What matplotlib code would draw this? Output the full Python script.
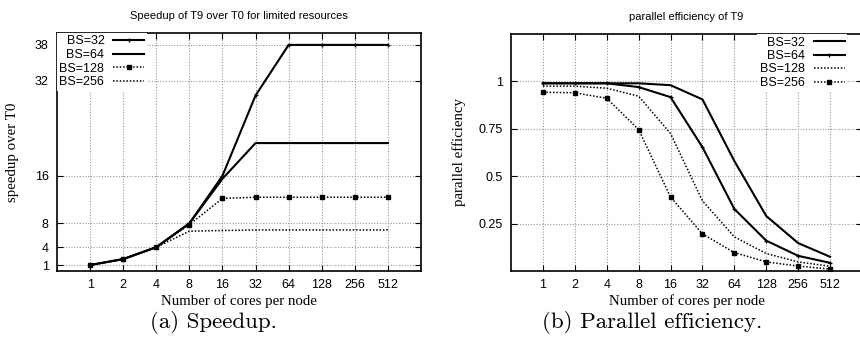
import matplotlib
matplotlib.use("Agg")
import matplotlib.pyplot as plt

cores = ["1", "2", "4", "8", "16", "32", "64", "128", "256", "512"]

speedup_bs32 = [1, 2, 4, 8, 16, 29.5, 38, 38, 38, 38]
speedup_bs64 = [1, 2, 4, 8, 15.5, 21.5, 21.5, 21.5, 21.5, 21.5]
speedup_bs128 = [1, 2, 4, 7.8, 12.2, 12.4, 12.4, 12.4, 12.4, 12.4]
speedup_bs256 = [1, 2, 4, 6.7, 6.8, 6.9, 6.9, 6.9, 6.9, 6.9]

eff_bs32 = [0.99, 0.99, 0.99, 0.99, 0.98, 0.905, 0.58, 0.29, 0.147, 0.075]
eff_bs64 = [0.99, 0.99, 0.99, 0.97, 0.917, 0.653, 0.327, 0.16, 0.08, 0.043]
eff_bs128 = [0.975, 0.975, 0.964, 0.922, 0.725, 0.37, 0.18, 0.092, 0.048, 0.025]
eff_bs256 = [0.943, 0.94, 0.911, 0.746, 0.39, 0.196, 0.097, 0.048, 0.026, 0.01]

speedup_yticks = [1, 4, 8, 16, 32, 38]
eff_yticks = [0.25, 0.5, 0.75, 1]
eff_yticklabels = ["0.25", "0.5", "0.75", "1"]

SANS = "Liberation Sans"
SERIF = "Liberation Serif"

W, H = 860, 337
fig = plt.figure(figsize=(W / 100, H / 100), dpi=100)

def ax_rect(x0, y0, x1, y1):
    return [x0 / W, (H - y1) / H, (x1 - x0) / W, (y1 - y0) / H]

ax1 = fig.add_axes(ax_rect(57, 33, 421, 271))
ax2 = fig.add_axes(ax_rect(511, 34, 862, 271))

x = list(range(len(cores)))

solid = dict(color="black", lw=1.5, ls="-")
dotted = dict(color="black", lw=1.1, ls=(0, (1, 1.2)))
plus = dict(marker="+", ms=3.5, mew=0.9)
square = dict(marker="s", ms=3.2)

# Left panel
ax1.plot(x, speedup_bs32, label="BS=32", **plus, **solid)
ax1.plot(x, speedup_bs64, label="BS=64", **solid)
ax1.plot(x, speedup_bs128, label="BS=128", **square, **dotted)
ax1.plot(x, speedup_bs256, label="BS=256", **dotted)
ax1.set_ylim(0, 40)
ax1.set_yticks(speedup_yticks)
ax1.set_yticklabels([str(v) for v in speedup_yticks])

# Right panel
ax2.plot(x, eff_bs32, label="BS=32", **solid)
ax2.plot(x, eff_bs64, label="BS=64", **plus, **solid)
ax2.plot(x, eff_bs128, label="BS=128", **dotted)
ax2.plot(x, eff_bs256, label="BS=256", **square, **dotted)
ax2.set_ylim(0, 1.25)
ax2.set_yticks(eff_yticks)
ax2.set_yticklabels(eff_yticklabels)

for ax in (ax1, ax2):
    ax.set_xlim(-1, len(cores))
    ax.set_xticks(x)
    ax.set_xticklabels(cores)
    ax.grid(True, color="#999999", ls=(0, (1, 1.5)), lw=0.8)
    ax.set_axisbelow(True)
    ax.tick_params(direction="in", length=4, width=0.8, top=True, right=True,
                   labelsize=9, pad=6)
    for lab in ax.get_xticklabels() + ax.get_yticklabels():
        lab.set_fontfamily(SANS)
    for s in ax.spines.values():
        s.set_linewidth(1.2)
    ax.set_xlabel("Number of cores per node", fontfamily=SERIF, fontsize=10.7, labelpad=2)

ax1.set_ylabel("speedup over T0", fontfamily=SERIF, fontsize=10.7, labelpad=11)
ax2.set_ylabel("parallel efficiency", fontfamily=SERIF, fontsize=10.7, labelpad=9)
ax1.set_title("Speedup of T9 over T0 for limited resources", fontfamily=SANS, fontsize=8, pad=10)
ax2.set_title("parallel efficiency of T9", fontfamily=SANS, fontsize=8, pad=10)

leg_kw = dict(markerfirst=False, alignment="right", frameon=True, fancybox=False,
              framealpha=1, edgecolor="none", facecolor="white",
              prop={"family": SANS, "size": 9}, handlelength=2.5, handletextpad=0.7,
              labelspacing=0.12, borderpad=0.2, borderaxespad=0.0)
ax1.legend(loc="upper left", **leg_kw)
ax2.legend(loc="upper right", bbox_to_anchor=(0.958, 1.0), **leg_kw)

fig.text(213 / W, 1 - 322 / H, "(a) Speedup.", fontfamily="cmr10", fontsize=16.5,
         ha="center", va="center")
fig.text(652 / W, 1 - 322 / H, "(b) Parallel efficiency.", fontfamily="cmr10", fontsize=16.5,
         ha="center", va="center")

fig.savefig("out.png", dpi=100)
